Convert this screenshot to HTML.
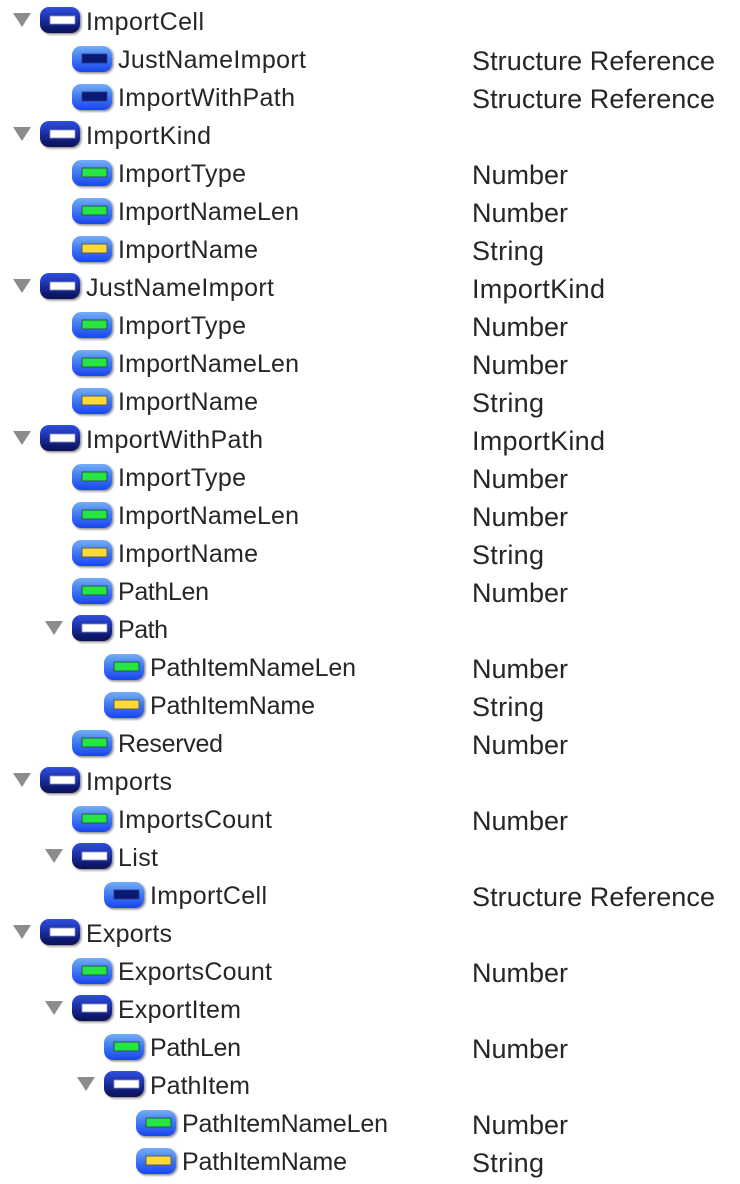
<!DOCTYPE html>
<html><head><meta charset="utf-8"><style>
html,body{margin:0;padding:0;background:#fff;width:740px;height:1184px;overflow:hidden}
svg{display:block}
text{font-family:"Liberation Sans",sans-serif;fill:#262626}
.l{font-size:25px;transform:translateY(-1px)}
.r{font-size:27px}
</style></head><body>
<svg width="740" height="1184" viewBox="0 0 740 1184" xmlns="http://www.w3.org/2000/svg">
<defs>
<linearGradient id="gd" x1="0" y1="0" x2="0" y2="1"><stop offset="0" stop-color="#2f4fe0"/><stop offset=".45" stop-color="#1c2fa8"/><stop offset="1" stop-color="#08104f"/></linearGradient>
<linearGradient id="gb" x1="0" y1="0" x2="0" y2="1"><stop offset="0" stop-color="#74adf5"/><stop offset=".5" stop-color="#3d78f2"/><stop offset="1" stop-color="#1a45ee"/></linearGradient>
<filter id="s" x="-20%" y="-20%" width="140%" height="150%"><feDropShadow dx="1.5" dy="1.5" stdDeviation="1" flood-color="#000" flood-opacity=".45"/></filter>
<g id="tri"><path d="M0 -1H18L9 13Z" fill="#8c8c8c"/></g>
<g id="D"><rect x="0" y="-1" width="40" height="26" rx="9" fill="url(#gd)" filter="url(#s)"/><rect x="10" y="8" width="25" height="8" fill="#fff" stroke="#8a93b8" stroke-width=".8"/></g>
<g id="R"><rect x="0" y="0" width="40" height="26" rx="9" fill="url(#gb)" filter="url(#s)"/><rect x="10" y="8" width="25" height="9" fill="#0a1a72" stroke="#2a3a80" stroke-width=".8"/></g>
<g id="G"><rect x="0" y="0" width="40" height="26" rx="9" fill="url(#gb)" filter="url(#s)"/><rect x="10" y="8" width="25" height="9" fill="#28e640" stroke="#28505a" stroke-width="1"/></g>
<g id="Y"><rect x="0" y="0" width="40" height="26" rx="9" fill="url(#gb)" filter="url(#s)"/><rect x="10" y="8" width="25" height="9" fill="#ffd83c" stroke="#5a5a50" stroke-width="1"/></g>
</defs>

<use href="#tri" x="13" y="14"/><use href="#D" x="40" y="8"/><text class="l" x="86" y="31" textLength="118">ImportCell</text>
<use href="#R" x="72" y="46"/><text class="l" x="118" y="69" textLength="188">JustNameImport</text><text class="r" x="472" y="70" textLength="243">Structure Reference</text>
<use href="#R" x="72" y="84"/><text class="l" x="118" y="107" textLength="177">ImportWithPath</text><text class="r" x="472" y="108" textLength="243">Structure Reference</text>
<use href="#tri" x="13" y="128"/><use href="#D" x="40" y="122"/><text class="l" x="86" y="145" textLength="125">ImportKind</text>
<use href="#G" x="72" y="160"/><text class="l" x="118" y="183" textLength="128">ImportType</text><text class="r" x="472" y="184">Number</text>
<use href="#G" x="72" y="198"/><text class="l" x="118" y="221" textLength="181">ImportNameLen</text><text class="r" x="472" y="222">Number</text>
<use href="#Y" x="72" y="236"/><text class="l" x="118" y="259" textLength="140">ImportName</text><text class="r" x="472" y="260" textLength="72">String</text>
<use href="#tri" x="13" y="280"/><use href="#D" x="40" y="274"/><text class="l" x="86" y="297" textLength="188">JustNameImport</text><text class="r" x="472" y="298" textLength="133">ImportKind</text>
<use href="#G" x="72" y="312"/><text class="l" x="118" y="335" textLength="128">ImportType</text><text class="r" x="472" y="336">Number</text>
<use href="#G" x="72" y="350"/><text class="l" x="118" y="373" textLength="181">ImportNameLen</text><text class="r" x="472" y="374">Number</text>
<use href="#Y" x="72" y="388"/><text class="l" x="118" y="411" textLength="140">ImportName</text><text class="r" x="472" y="412" textLength="72">String</text>
<use href="#tri" x="13" y="432"/><use href="#D" x="40" y="426"/><text class="l" x="86" y="449" textLength="177">ImportWithPath</text><text class="r" x="472" y="450" textLength="133">ImportKind</text>
<use href="#G" x="72" y="464"/><text class="l" x="118" y="487" textLength="128">ImportType</text><text class="r" x="472" y="488">Number</text>
<use href="#G" x="72" y="502"/><text class="l" x="118" y="525" textLength="181">ImportNameLen</text><text class="r" x="472" y="526">Number</text>
<use href="#Y" x="72" y="540"/><text class="l" x="118" y="563" textLength="140">ImportName</text><text class="r" x="472" y="564" textLength="72">String</text>
<use href="#G" x="72" y="578"/><text class="l" x="118" y="601" textLength="91">PathLen</text><text class="r" x="472" y="602">Number</text>
<use href="#tri" x="45" y="622"/><use href="#D" x="72" y="616"/><text class="l" x="118" y="639" textLength="50">Path</text>
<use href="#G" x="104" y="654"/><text class="l" x="150" y="677" textLength="206">PathItemNameLen</text><text class="r" x="472" y="678">Number</text>
<use href="#Y" x="104" y="692"/><text class="l" x="150" y="715" textLength="165">PathItemName</text><text class="r" x="472" y="716" textLength="72">String</text>
<use href="#G" x="72" y="730"/><text class="l" x="118" y="753" textLength="105">Reserved</text><text class="r" x="472" y="754">Number</text>
<use href="#tri" x="13" y="774"/><use href="#D" x="40" y="768"/><text class="l" x="86" y="791" textLength="86">Imports</text>
<use href="#G" x="72" y="806"/><text class="l" x="118" y="829" textLength="154">ImportsCount</text><text class="r" x="472" y="830">Number</text>
<use href="#tri" x="45" y="850"/><use href="#D" x="72" y="844"/><text class="l" x="118" y="867" textLength="40">List</text>
<use href="#R" x="104" y="882"/><text class="l" x="150" y="905" textLength="117">ImportCell</text><text class="r" x="472" y="906" textLength="243">Structure Reference</text>
<use href="#tri" x="13" y="926"/><use href="#D" x="40" y="920"/><text class="l" x="86" y="943" textLength="86">Exports</text>
<use href="#G" x="72" y="958"/><text class="l" x="118" y="981" textLength="154">ExportsCount</text><text class="r" x="472" y="982">Number</text>
<use href="#tri" x="45" y="1002"/><use href="#D" x="72" y="996"/><text class="l" x="118" y="1019" textLength="123">ExportItem</text>
<use href="#G" x="104" y="1034"/><text class="l" x="150" y="1057" textLength="91">PathLen</text><text class="r" x="472" y="1058">Number</text>
<use href="#tri" x="77" y="1078"/><use href="#D" x="104" y="1072"/><text class="l" x="150" y="1095" textLength="100">PathItem</text>
<use href="#G" x="136" y="1110"/><text class="l" x="182" y="1133" textLength="206">PathItemNameLen</text><text class="r" x="472" y="1134">Number</text>
<use href="#Y" x="136" y="1148"/><text class="l" x="182" y="1171" textLength="165">PathItemName</text><text class="r" x="472" y="1172" textLength="72">String</text>
</svg>
</body></html>
